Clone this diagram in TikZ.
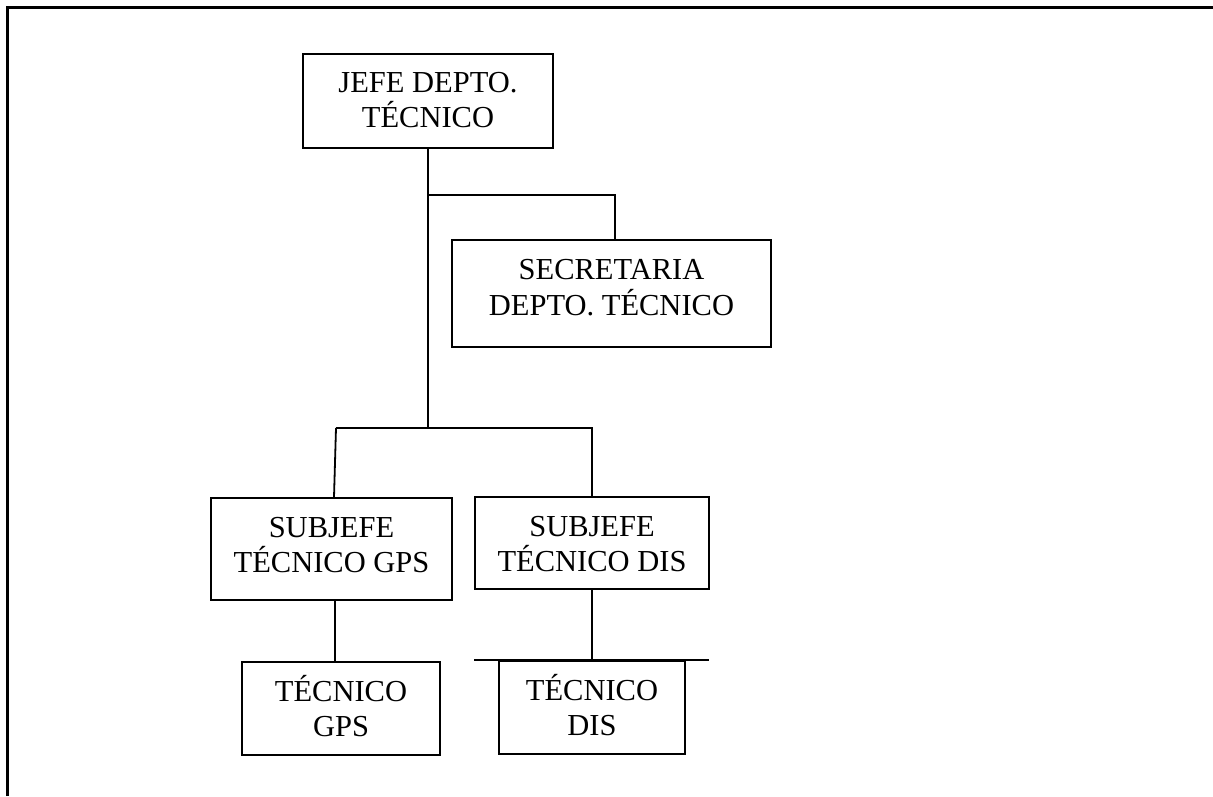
\documentclass[tikz,border=0pt]{standalone}
\usepackage{fontspec}
\setmainfont{Liberation Serif}
\begin{document}
\begin{tikzpicture}[x=1pt,y=-1pt,
  box/.style={draw,line width=1.8pt,inner sep=0pt},
  txt/.style={inner sep=0pt,align=center,font=\fontsize{30.5}{35.5}\selectfont},
  conn/.style={line width=1.8pt},
  frame/.style={line width=3pt}]
\useasboundingbox (0,0) rectangle (1213,796);
\draw[frame] (7,796) -- (7,7) -- (1213,7);
\node[box,minimum width=250pt,minimum height=94pt] (jefe) at (428,101) {};
\node[txt] (jefeT) at ([yshift=1pt]jefe.center) {JEFE DEPTO.\\TÉCNICO};
\node[box,minimum width=319pt,minimum height=107pt] (secre) at (611.5,293.5) {};
\node[txt] (secreT) at ([yshift=6pt]secre.center) {SECRETARIA\\DEPTO. TÉCNICO};
\node[box,minimum width=241pt,minimum height=102pt] (sgps) at (331.5,549) {};
\node[txt] (sgpsT) at ([yshift=4pt]sgps.center) {SUBJEFE\\TÉCNICO GPS};
\node[box,minimum width=234pt,minimum height=92pt] (sdis) at (592,543) {};
\node[txt] (sdisT) at ([yshift=-1pt]sdis.center) {SUBJEFE\\TÉCNICO DIS};
\node[box,minimum width=198pt,minimum height=93pt] (tgps) at (341,708.5) {};
\node[txt] (tgpsT) at ([yshift=2.5pt]tgps.center) {TÉCNICO\\GPS};
\node[box,minimum width=186pt,minimum height=93pt] (tdis) at (592,707.5) {};
\node[txt] (tdisT) at ([yshift=2.5pt]tdis.center) {TÉCNICO\\DIS};
\coordinate (bus) at (428,428);
\coordinate (secbr) at (615,195);
\coordinate (busL) at (336,428);
\coordinate (busR) at (593,428);
\draw[conn] (jefe.south) -- (bus);
\draw[conn] (jefe.south |- secbr) -- (secbr) -- (secbr |- secre.north);
\draw[conn] (busL) -- (busR);
\draw[conn] (busL) -- ([xshift=2.5pt]sgps.north);
\draw[conn] (sdis.north |- busR) -- (sdis.north);
\draw[conn] ([xshift=3.5pt]sgps.south) -- ([xshift=3.5pt]sgps.south |- tgps.north);
\draw[conn] (sdis.south) -- (tdis.north);
\draw[conn] ([xshift=-24pt]tdis.north west) -- ([xshift=23pt]tdis.north east);
\end{tikzpicture}
\end{document}
